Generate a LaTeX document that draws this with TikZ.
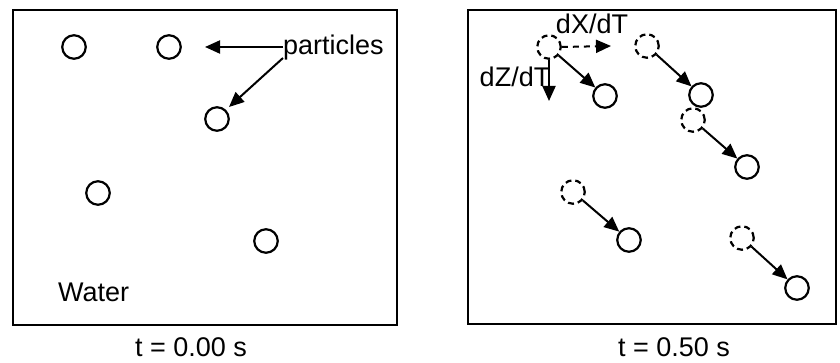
\documentclass[tikz,border=0pt]{standalone}
\usepackage{fontspec}
\setmainfont{Liberation Sans}
\usetikzlibrary{arrows.meta}
\begin{document}
\begin{tikzpicture}[x=1pt,y=-1pt,
  box/.style={draw,line width=2.2pt},
  part/.style={circle,draw,line width=2.2pt,minimum size=23.5pt,inner sep=0pt},
  ghost/.style={part,dash pattern=on 6pt off 4pt},
  arr/.style={line width=2pt,-{Triangle[length=15pt,width=13pt]}},
  lbl/.style={font=\fontsize{27}{29}\selectfont,inner sep=0pt}]
\useasboundingbox (0,0) rectangle (840,363);
% left panel
\node[box,minimum width=384pt,minimum height=315pt,inner sep=0pt] (lbox) at (205,167.5) {};
\node[part] (a1) at (74,47) {};
\node[part] (a2) at (169,47) {};
\node[part] (a3) at (217,119) {};
\node[part] (a4) at (98,193) {};
\node[part] (a5) at (266,241) {};
\node[lbl,anchor=west] (pt) at (283,48) {particles};
\coordinate (pa1) at (205,47);
\coordinate (pa2) at (229,107);
\draw[arr] ([yshift=1pt]pt.west) -- (pa1);
\draw[arr] ([yshift=-10pt]pt.west) -- (pa2);
\node[lbl,anchor=west] (water) at (58,292) {Water};
\node[lbl] (t0) at (191,347) {t = 0.00 s};
% right panel
\node[box,minimum width=368pt,minimum height=314pt,inner sep=0pt] (rbox) at (652,167) {};
\node[ghost] (d1) at (549,47) {};
\node[ghost] (d2) at (647,46) {};
\node[ghost] (d3) at (693,120) {};
\node[ghost] (d4) at (573,192) {};
\node[ghost] (d5) at (742,238) {};
\node[part] (s1) at (605,96) {};
\node[part] (s2) at (701,95) {};
\node[part] (s3) at (747,167) {};
\node[part] (s4) at (629,240) {};
\node[part] (s5) at (797,288) {};
\foreach \i in {1,...,5} {\draw[arr] (d\i) -- (s\i);}
\coordinate (dxend) at (611,46);
\coordinate (dzend) at (549,101);
\draw[arr,dash pattern=on 6pt off 5pt] (d1.east) -- (dxend);
\draw[arr] (d1.south) -- (dzend);
\node[lbl] (dx) at (592,24) {dX/dT};
\node[lbl] (dz) at (515,77) {dZ/dT};
\node[lbl] (t1) at (674,347) {t = 0.50 s};
\end{tikzpicture}
\end{document}
